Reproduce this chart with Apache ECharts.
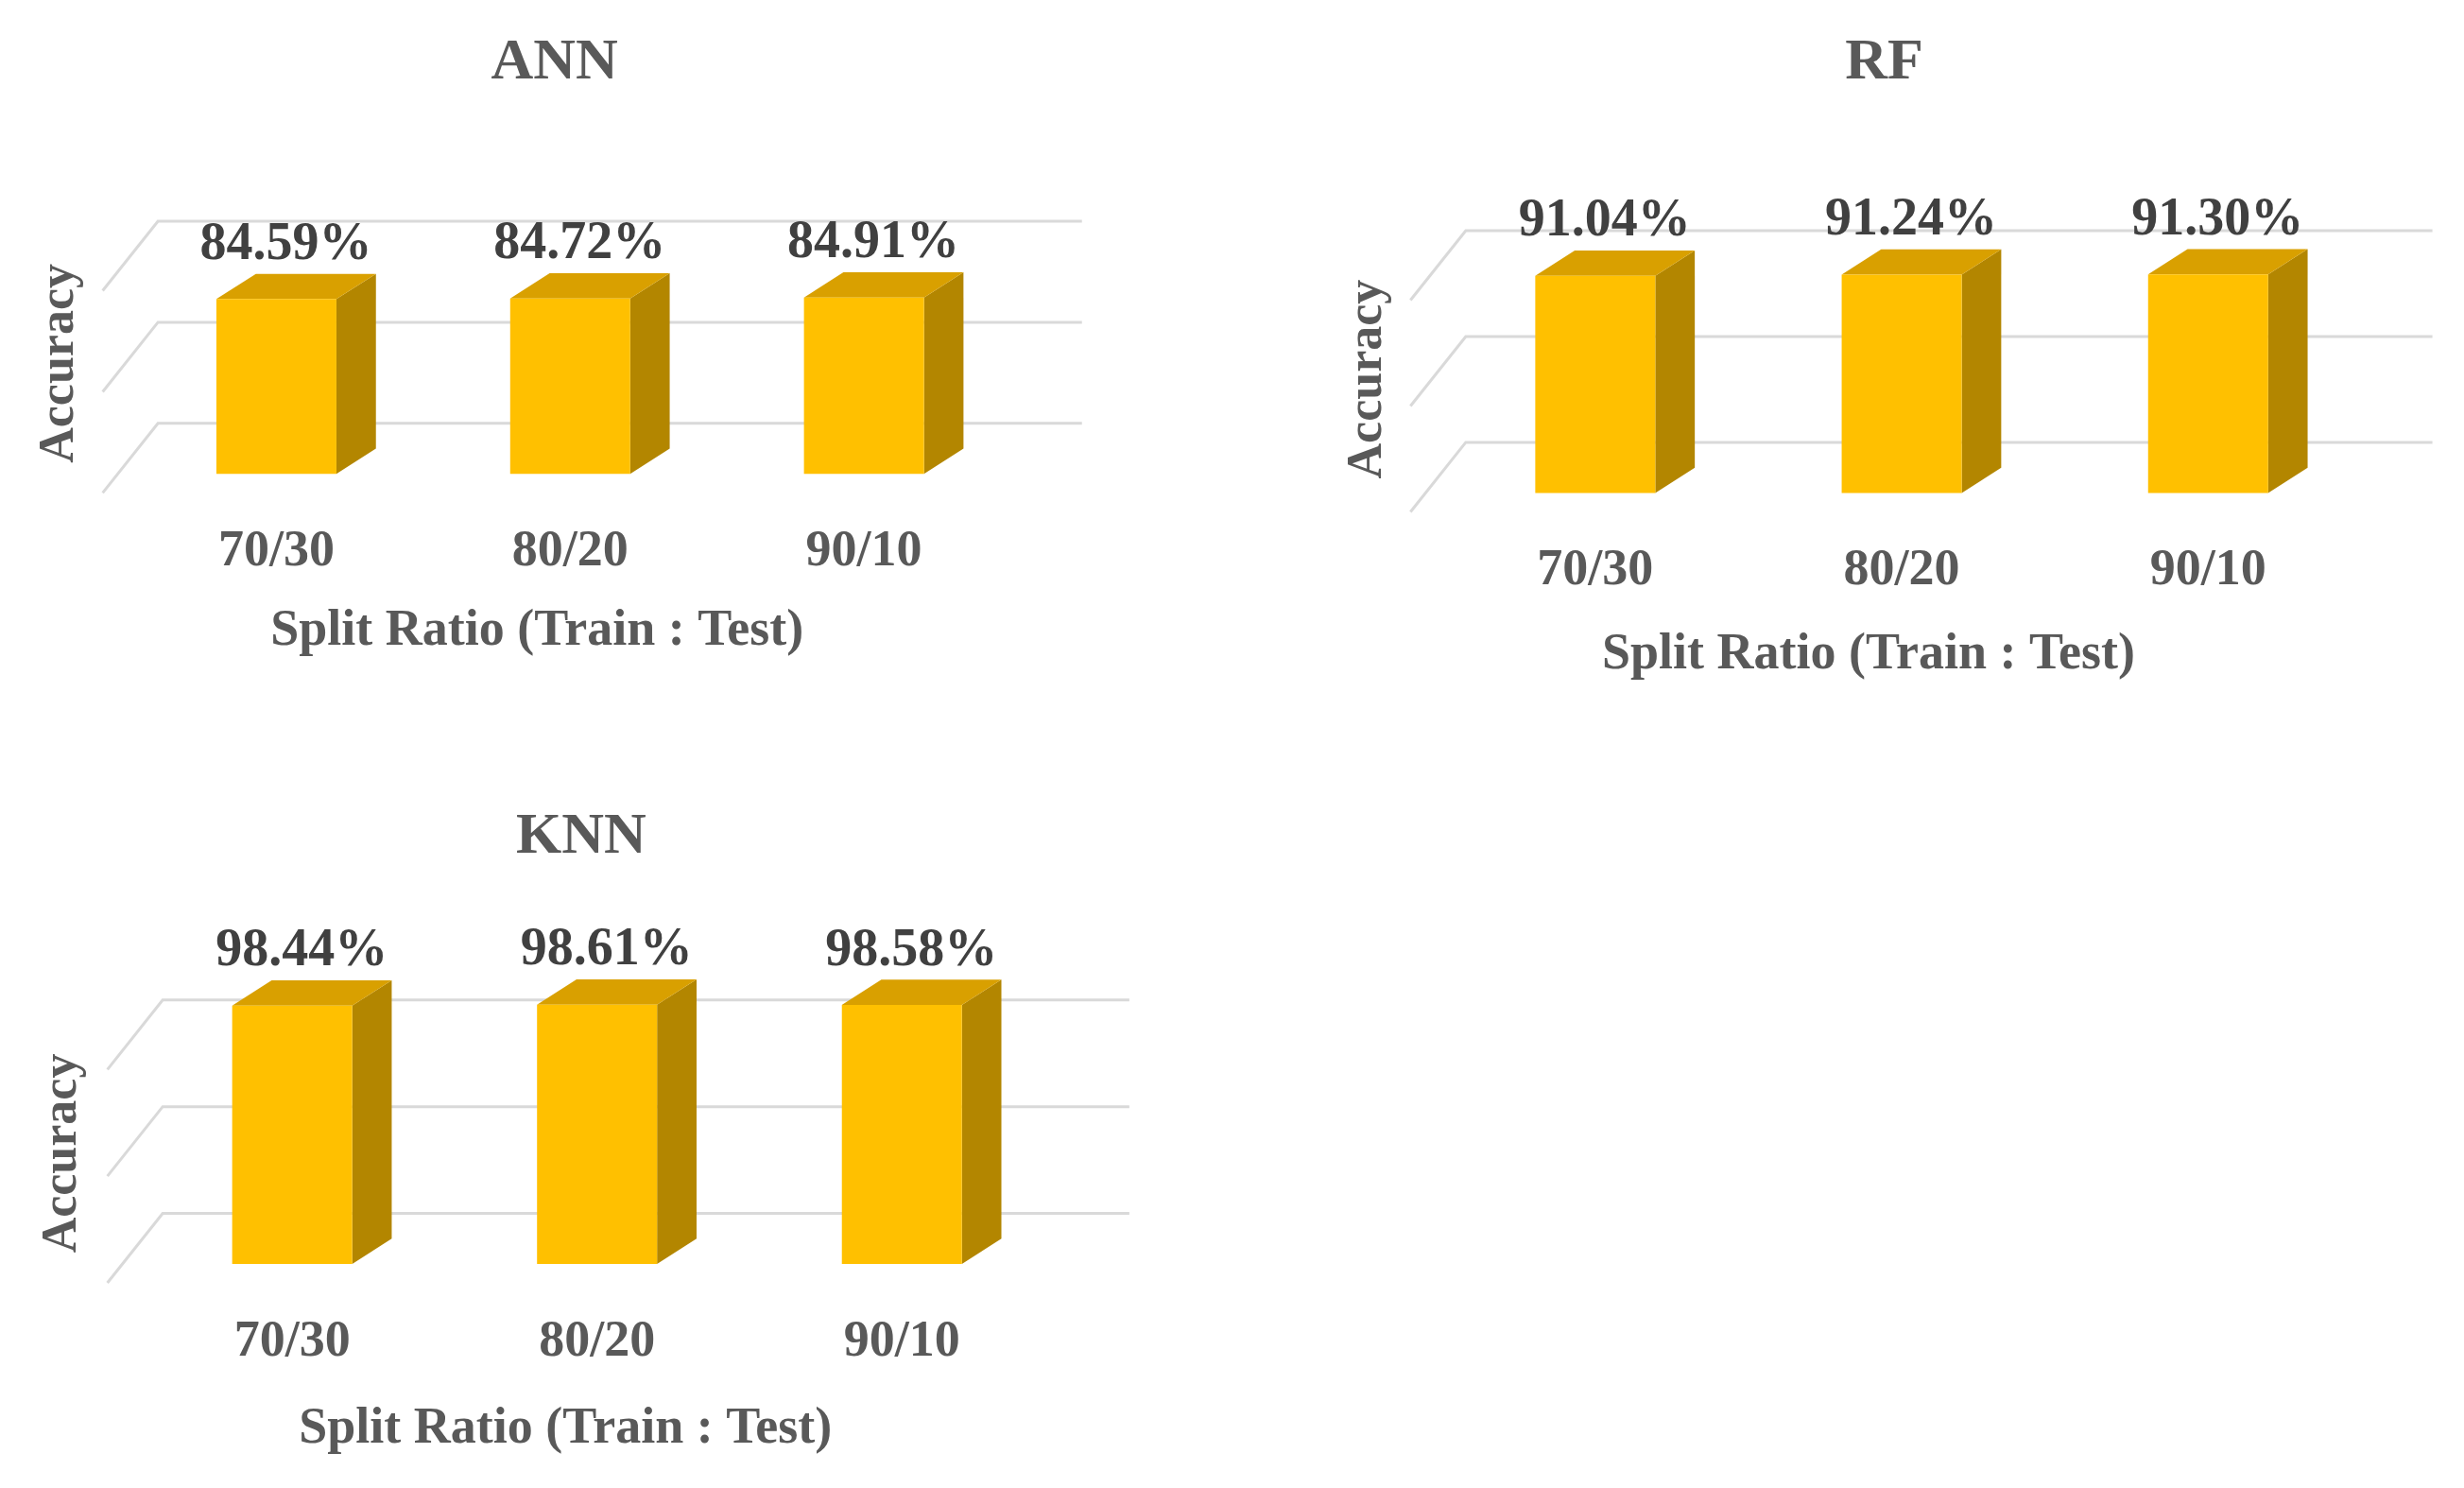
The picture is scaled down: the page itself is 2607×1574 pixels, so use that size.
<!DOCTYPE html>
<html>
<head>
<meta charset="utf-8">
<script src="https://cdn.jsdelivr.net/npm/echarts@6/dist/echarts.min.js"></script>
<style>
  html, body { margin: 0; background: #fff; }
  #main { width: 2607px; height: 1574px; }
</style>
</head>
<body>
<div id="main"></div>
<script>
// data
const categories = ['70/30', '80/20', '90/10'];
const modelNames = ['ANN', 'RF', 'KNN'];
const annValues = [84.59, 84.72, 84.91];
const rfValues = [91.04, 91.24, 91.30];
const knnValues = [98.44, 98.61, 98.58];
const gridValues = [50, 70, 90];

const S = 2607 / 1560; // reference was read at ~1560px wide
const FONT = '"Liberation Serif", "Times New Roman", serif';

// layout, read in display units then scaled
const panels = [
  { name: 'ANN', values: annValues, c0: 175, band: 186, floorY: 300, fullH: 128, titleX: 348, titleY: 37,
    backX0: 100, backX1: 685, axisNameX: 340, axisNameY: 400, accX: 38, accY: 230 },
  { name: 'RF', values: rfValues, c0: 1010, band: 194, floorY: 312, fullH: 134, titleX: 1190, titleY: 37,
    backX0: 928, backX1: 1540, axisNameX: 1183, axisNameY: 415, accX: 866, accY: 240 },
  { name: 'KNN', values: knnValues, c0: 185, band: 193, floorY: 800, fullH: 135, titleX: 365, titleY: 527,
    backX0: 103, backX1: 715, axisNameX: 358, axisNameY: 905, accX: 40, accY: 730 }
];

const BAR_W = 76 * S, BAR_DX = 25 * S, BAR_DY = -16 * S;
const BACK_DY = -32 * S, DIAG_DX = 35 * S, DIAG_DY = 44 * S;

const chart = echarts.init(document.getElementById('main'));

const grids = [], xAxes = [], yAxes = [], series = [], titles = [], graphics = [];

panels.forEach(function (p, i) {
  grids.push({
    left: (p.c0 - p.band / 2) * S,
    width: 3 * p.band * S,
    top: (p.floorY - p.fullH) * S,
    height: p.fullH * S
  });
  xAxes.push({
    gridIndex: i, type: 'category', data: categories,
    axisLine: { show: false }, axisTick: { show: false },
    axisLabel: { margin: 56, fontFamily: FONT, fontWeight: 'bold', fontSize: 54, color: '#595959' }
  });
  yAxes.push({ gridIndex: i, type: 'value', min: 50, max: 90, show: false });

  // perspective gridlines
  series.push({
    type: 'custom', xAxisIndex: i, yAxisIndex: i, z: 1, silent: true,
    data: gridValues.map(function (v) { return [0, v]; }),
    renderItem: function (params, api) {
      const y = api.coord([0, api.value(1)])[1] + BACK_DY;
      const bx0 = p.backX0 * S, bx1 = p.backX1 * S;
      return {
        type: 'polyline',
        shape: { points: [[bx0 - DIAG_DX, y + DIAG_DY], [bx0, y], [bx1, y]] },
        style: { stroke: '#d9d9d9', lineWidth: 3, fill: null }
      };
    }
  });

  // pseudo-3D bars
  series.push({
    type: 'custom', xAxisIndex: i, yAxisIndex: i, z: 2,
    data: p.values.map(function (v, k) { return [k, v]; }),
    renderItem: function (params, api) {
      const base = api.coord([api.value(0), 50]);
      const top = api.coord([api.value(0), api.value(1)]);
      const x0 = base[0] - BAR_W / 2, x1 = base[0] + BAR_W / 2;
      const yb = base[1], yt = top[1];
      return {
        type: 'group',
        children: [
          { type: 'polygon', shape: { points: [[x1, yt], [x1 + BAR_DX, yt + BAR_DY], [x1 + BAR_DX, yb + BAR_DY], [x1, yb]] },
            style: { fill: '#B38600' } },
          { type: 'polygon', shape: { points: [[x0, yt], [x0 + BAR_DX, yt + BAR_DY], [x1 + BAR_DX, yt + BAR_DY], [x1, yt]] },
            style: { fill: '#D9A000' } },
          { type: 'rect', shape: { x: x0, y: yt, width: BAR_W, height: yb - yt },
            style: { fill: '#FFC000' } },
          { type: 'text', x: base[0] + 10, y: yt - 34 * S,
            style: { text: api.value(1).toFixed(2) + '%', font: 'bold 56px ' + FONT, fill: '#404040',
              align: 'center', verticalAlign: 'middle' } }
        ]
      };
    }
  });

  titles.push({
    text: p.name, left: p.titleX * S, top: p.titleY * S, textAlign: 'center', textVerticalAlign: 'middle',
    textStyle: { fontFamily: FONT, fontWeight: 'bold', fontSize: 62, color: '#595959' }
  });
  graphics.push({
    type: 'text', x: p.axisNameX * S, y: p.axisNameY * S,
    style: { text: 'Split Ratio (Train : Test)', font: 'bold 54px ' + FONT, fill: '#595959',
      align: 'center', verticalAlign: 'middle' }
  });
  graphics.push({
    type: 'text', x: p.accX * S, y: p.accY * S, rotation: Math.PI / 2,
    style: { text: 'Accuracy', font: 'bold 52px ' + FONT, fill: '#595959',
      align: 'center', verticalAlign: 'middle' }
  });
});

chart.setOption({
  backgroundColor: '#ffffff',
  animation: false,
  title: titles,
  grid: grids,
  xAxis: xAxes,
  yAxis: yAxes,
  series: series,
  graphic: graphics
});
</script>
</body>
</html>
